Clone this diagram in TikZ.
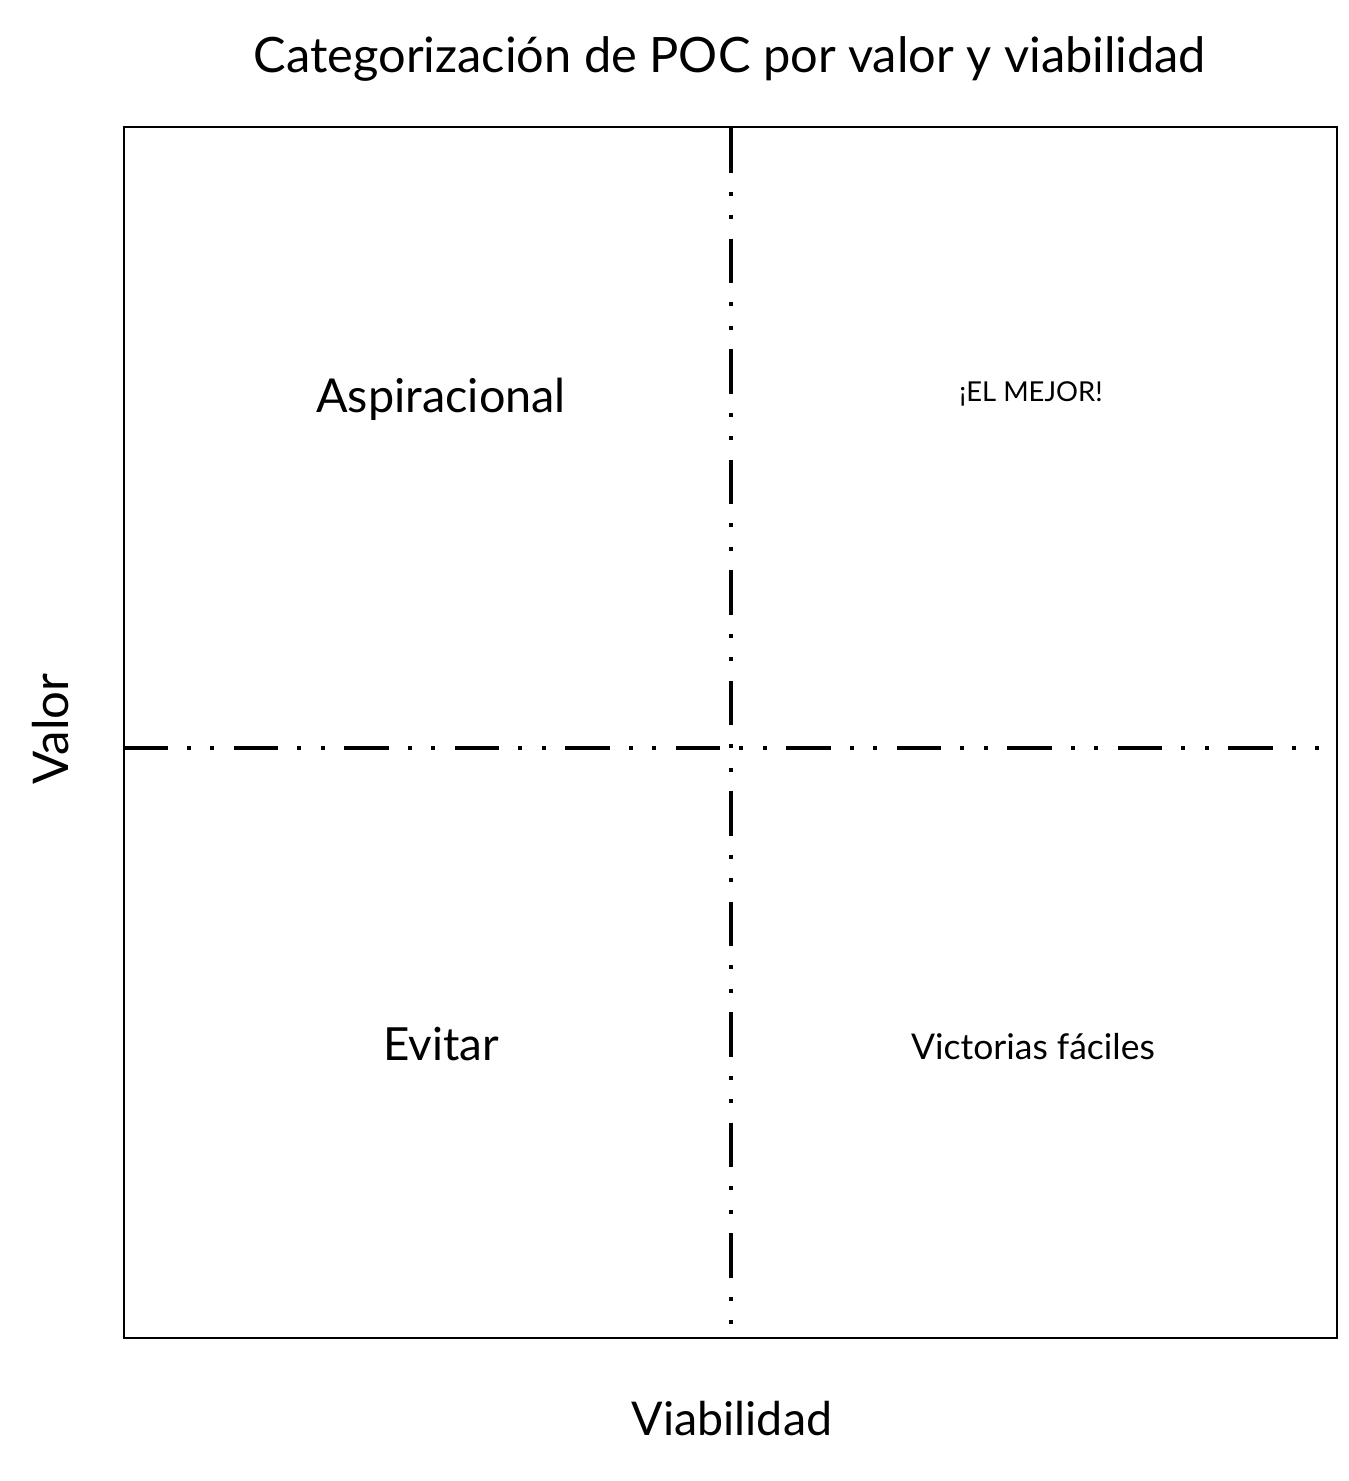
\documentclass[tikz,border=0pt]{standalone}
\usepackage{fontspec}
\setmainfont{Lato}
\usepackage{tikz}
\usetikzlibrary{positioning}

\begin{document}
\begin{tikzpicture}[x=0.02cm,y=-0.02cm,
        frame/.style={draw=black, line width=1.2pt},
        divider/.style={line width=2.7pt, dash pattern=on 25.5pt off 10.8pt on 2.3pt off 11pt on 2.3pt off 11pt},
        quad/.style={font=\fontsize{#1}{#1}\selectfont, inner sep=0pt, anchor=base},
        quad/.default=26pt,
    ]
    \useasboundingbox (0,0) rectangle (1349,1481);
    % marco
    \draw[frame] (124,127) rectangle (1337,1338);
    % ejes
    \coordinate (hl) at (123,748);
    \coordinate (hr) at (1328,748);
    \coordinate (vt) at (731,128);
    \coordinate (vb) at (731,1333);
    \draw[divider] (hl) -- (hr);
    \draw[divider] (vt) -- (vb);
    % titulo
    \node[quad=27.75pt] (title) at (730,72) {Categorización de POC por valor y viabilidad};
    % cuadrantes
    \node[quad=26.6pt] (asp) at (441,412) {Aspiracional};
    \node[quad=15.6pt] (best) at (1031,401) {¡EL MEJOR!};
    \node[quad] (avoid) at (441,1060) {Evitar};
    \node[quad=20.2pt] (wins) at (1033,1059) {Victorias fáciles};
    % etiquetas de ejes
    \node[quad=28pt, rotate=90] (yl) at (68,729) {Valor};
    \node[quad=26.5pt] (xl) at (732,1435) {Viabilidad};
\end{tikzpicture}
\end{document}
